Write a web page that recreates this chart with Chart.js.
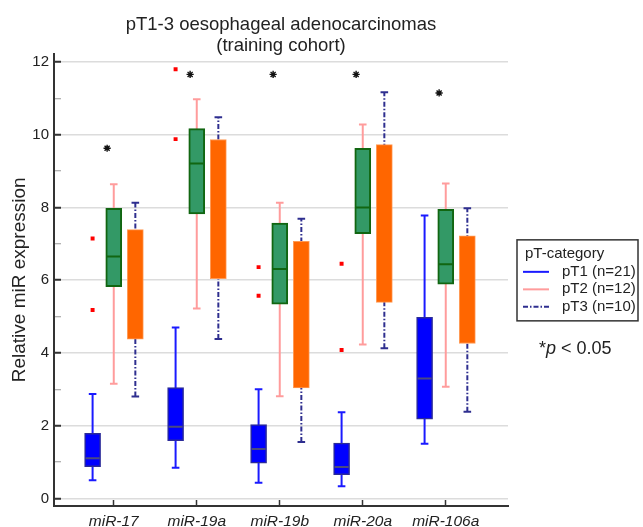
<!DOCTYPE html>
<html>
<head>
<meta charset="utf-8">
<script src="https://cdn.jsdelivr.net/npm/chart.js@4.4.1/dist/chart.umd.min.js"></script>
<style>
  html, body { margin: 0; padding: 0; background: #fff; }
  canvas { display: block; }
</style>
</head>
<body>
<canvas id="chart" width="643" height="527"></canvas>
<script>
const categories = ["miR-17", "miR-19a", "miR-19b", "miR-20a", "miR-106a"];
const groups = ["pT1 (n=21)", "pT2 (n=12)", "pT3 (n=10)"];

// [lower whisker, q1, median, q3, upper whisker] for each miR
const pT1 = [
  [0.50, 0.87, 1.10, 1.79, 2.87],
  [0.84, 1.59, 1.97, 3.05, 4.70],
  [0.43, 0.97, 1.36, 2.03, 3.00],
  [0.33, 0.65, 0.86, 1.52, 2.37],
  [1.50, 2.18, 3.30, 4.98, 7.78],
];
const pT2 = [
  [3.15, 5.82, 6.65, 7.98, 8.64],
  [5.22, 7.82, 9.21, 10.17, 10.98],
  [2.81, 5.34, 6.31, 7.57, 8.13],
  [4.23, 7.28, 8.00, 9.63, 10.28],
  [3.07, 5.89, 6.44, 7.95, 8.66],
];
// no median line is visible on the pT3 boxes
const pT3 = [
  [2.80, 4.38, null, 7.39, 8.13],
  [4.38, 6.04, null, 9.87, 10.48],
  [1.55, 3.04, null, 7.07, 7.69],
  [4.13, 5.39, null, 9.73, 11.17],
  [2.38, 4.26, null, 7.22, 7.98],
];
const outliers = [[7.15, 5.18], [11.80, 9.88], [6.36, 5.57], [6.45, 4.08], []];
const significance = [9.63, 11.66, 11.66, 11.66, 11.15];
const yTicks = [0, 1, 2, 3, 4, 5, 6, 7, 8, 9, 10, 11, 12];

const FONT = "'Liberation Sans', Arial, sans-serif";
const series = [pT1, pT2, pT3];
const xOff = [-0.255, 0, 0.26];
const boxFill = ["#0000ff", "#339966", "#ff6600"];
const boxEdge = ["#2b2b99", "#116611", "#ff9a55"];
const boxEdgeW = [1.5, 2, 1];
const whiskerColor = ["#1a1aff", "#ff9c9c", "#2e2e8f"];
const whiskerDash = [[], [], [5, 2, 1.5, 2]];
const medianColor = ["#4a4a80", "#116611", null];

let datasets = [];

series.forEach((s, g) => {
  // boxes: floating bars q1..q3
  datasets.push({
    type: "bar",
    label: groups[g],
    data: s.map((v, i) => ({ x: i + 1 + xOff[g], y: [v[1], v[3]] })),
    backgroundColor: boxFill[g],
    borderColor: boxEdge[g],
    borderWidth: boxEdgeW[g],
    borderSkipped: false,
    barThickness: 16,
    grouped: false,
    order: 2,
  });
  // whiskers + caps
  datasets.push({
    type: "line",
    data: s.flatMap((v, i) => [
      { x: i + 1 + xOff[g], y: v[0] },
      { x: i + 1 + xOff[g], y: v[4] },
      { x: i + 1 + xOff[g], y: null },
    ]),
    borderColor: whiskerColor[g],
    borderWidth: 2,
    borderDash: whiskerDash[g],
    pointStyle: "line",
    pointRadius: 3.8,
    pointBorderColor: whiskerColor[g],
    pointBorderWidth: 2,
    spanGaps: false,
    order: 3,
  });
  // medians
  if (medianColor[g]) {
    datasets.push({
      type: "line",
      showLine: false,
      data: s.map((v, i) => ({ x: i + 1 + xOff[g], y: v[2] })),
      pointStyle: "line",
      pointRadius: 7,
      pointBorderColor: medianColor[g],
      pointBorderWidth: 2,
      order: 1,
    });
  }
});

datasets.push({
  type: "line",
  showLine: false,
  data: outliers.flatMap((list, i) => list.map((y) => ({ x: i + 1 + xOff[0], y }))),
  pointStyle: "rect",
  pointRadius: 2.8,
  pointBackgroundColor: "#ff0000",
  pointBorderWidth: 0,
  order: 1,
});

datasets.push({
  type: "line",
  showLine: false,
  data: significance.map((y, i) => ({ x: i + 1 - 0.08, y })),
  pointStyle: "star",
  pointRadius: 3.6,
  pointBorderColor: "#111",
  pointBorderWidth: 1.4,
  order: 0,
});

// legend box on the right, plus the p-value note
const legendBox = {
  id: "legendBox",
  afterDraw(chart) {
    const { ctx, chartArea } = chart;
    const left = chartArea.right + 9;
    const top = (chartArea.top + chartArea.bottom) / 2 - 40;
    ctx.save();
    ctx.strokeStyle = "#333";
    ctx.lineWidth = 1.5;
    ctx.strokeRect(left, top, 121, 81);
    ctx.fillStyle = "#222";
    ctx.textBaseline = "middle";
    ctx.font = `15px ${FONT}`;
    ctx.fillText("pT-category", left + 8, top + 14);
    groups.forEach((label, g) => {
      const y = top + 32 + g * 17.5;
      ctx.strokeStyle = whiskerColor[g];
      ctx.lineWidth = 2;
      ctx.setLineDash(whiskerDash[g]);
      ctx.beginPath();
      ctx.moveTo(left + 6, y);
      ctx.lineTo(left + 32, y);
      ctx.stroke();
      ctx.setLineDash([]);
      ctx.fillText(label, left + 45, y);
    });
    let x = left + 22;
    const y = top + 109;
    ctx.font = `18px ${FONT}`;
    ctx.fillText("*", x, y);
    x += ctx.measureText("*").width;
    ctx.font = `italic 18px ${FONT}`;
    ctx.fillText("p", x, y);
    x += ctx.measureText("p").width;
    ctx.font = `18px ${FONT}`;
    ctx.fillText(" < 0.05", x, y);
    ctx.restore();
  },
};

new Chart(document.getElementById("chart"), {
  type: "bar",
  data: { datasets },
  plugins: [legendBox],
  options: {
    responsive: false,
    animation: false,
    layout: { padding: { left: 0, right: 135, top: 0, bottom: 0 } },
    plugins: {
      legend: { display: false },
      tooltip: { enabled: false },
      title: {
        display: true,
        text: ["pT1-3 oesophageal adenocarcinomas", "(training cohort)"],
        fullSize: false,
        color: "#222",
        font: { family: FONT, size: 18.5, weight: "normal", lineHeight: 1.1 },
        padding: { top: 15, bottom: -2 },
      },
    },
    scales: {
      x: {
        type: "linear",
        min: 0.28,
        max: 5.75,
        offset: false,
        afterFit: (s) => { s.height = 20; },
        afterBuildTicks: (s) => { s.ticks = categories.map((c, i) => ({ value: i + 1 })); },
        border: { color: "#333", width: 2 },
        grid: { drawOnChartArea: false, offset: false, tickLength: -6, tickColor: "#333", tickWidth: 1.5 },
        ticks: {
          padding: 12,
          color: "#222",
          font: { family: FONT, size: 15.5, style: "italic" },
          callback: (v) => categories[v - 1],
        },
      },
      y: {
        min: -0.21,
        max: 12.23,
        afterFit: (s) => { s.width = 54; },
        afterBuildTicks: (s) => { s.ticks = yTicks.map((v) => ({ value: v })); },
        border: { color: "#333", width: 2 },
        grid: {
          color: (c) => (c.tick && c.tick.value % 2 === 0 ? "#dcdcdc" : "rgba(0,0,0,0)"),
          lineWidth: 1.5,
          tickLength: -7,
          tickColor: (c) => (c.tick && c.tick.value % 2 === 0 ? "#333" : "#999"),
          tickWidth: (c) => (c.tick && c.tick.value % 2 === 0 ? 2 : 1),
        },
        ticks: {
          padding: 12,
          color: "#222",
          font: { family: FONT, size: 15 },
          callback: (v) => (v % 2 === 0 ? v : ""),
        },
        title: {
          display: true,
          text: "Relative miR expression",
          color: "#222",
          font: { family: FONT, size: 19 },
          padding: { top: 8, bottom: 0 },
        },
      },
    },
  },
});
</script>
</body>
</html>
